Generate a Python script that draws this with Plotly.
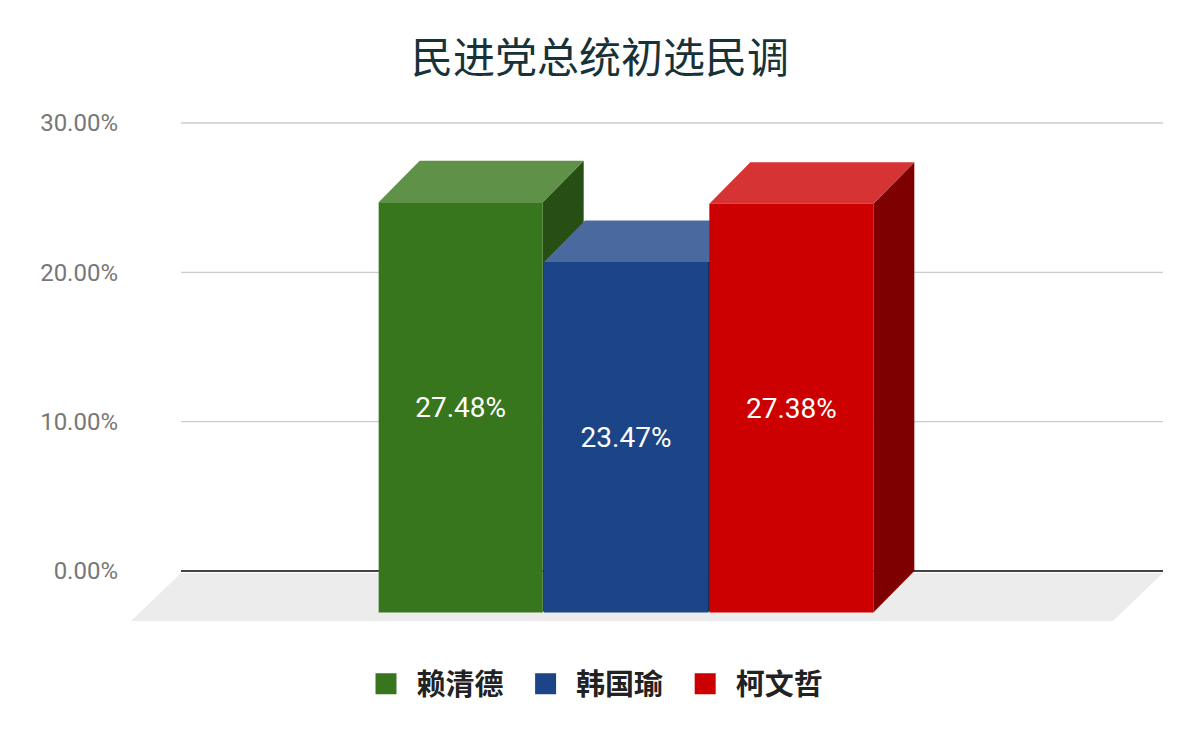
import plotly.graph_objects as go

# ---------------- data ----------------
title = "民进党总统初选民调"
candidates = ["赖清德", "韩国瑜", "柯文哲"]
values = [0.2748, 0.2347, 0.2738]          # support share
front_colors = ["#38761d", "#1c4587", "#cc0000"]
top_colors = ["#5f9148", "#4a6a9f", "#d63434"]
side_colors = ["#274e13", "#132f5e", "#7f0000"]
y_ticks = [0.0, 0.1, 0.2, 0.3]

# ---------------- geometry (layout constants) ----------------
OFF = 8                                 # page body margin
PX_PER_UNIT_X = 982.0
PX_PER_UNIT_Y = 1493.3
X0_PX = 626.0                           # page x of category centre
Y0_PX = 571.0                           # page y of value 0 on back wall
SLOT = 496.0 / 3 / PX_PER_UNIT_X        # one bar slot (category units)
BAR_W = SLOT * 0.992
DX = 41.0 / PX_PER_UNIT_X               # bar depth, x
DY = 41.5 / PX_PER_UNIT_Y               # bar depth, y
FLOOR_DX = 50.0 / PX_PER_UNIT_X
FLOOR_DY = 48.0 / PX_PER_UNIT_Y
FLOOR_TOP = -2.0 / PX_PER_UNIT_Y
BACK_LEFT = (181 - X0_PX) / PX_PER_UNIT_X
BACK_RIGHT = (1163 - X0_PX) / PX_PER_UNIT_X

W, H = 1200, 742
M_L, M_R, M_T, M_B = 117, 30, 92, 110
plot_top_page = M_T + OFF
plot_bot_page = H - M_B + OFF
x_range = [(M_L + OFF - X0_PX) / PX_PER_UNIT_X, (W - M_R + OFF - X0_PX) / PX_PER_UNIT_X]
y_range = [-(plot_bot_page - Y0_PX) / PX_PER_UNIT_Y, (Y0_PX - plot_top_page) / PX_PER_UNIT_Y]

centers = [(i - 1) * SLOT for i in range(len(values))]

fig = go.Figure()
shapes = []


def poly(pts, color):
    path = "M " + " L ".join(f"{x},{y}" for x, y in pts) + " Z"
    return dict(type="path", path=path, xref="x", yref="y",
                fillcolor=color, line=dict(width=0), layer="below")


# floor
shapes.append(poly([(BACK_LEFT, FLOOR_TOP), (BACK_RIGHT, FLOOR_TOP),
                    (BACK_RIGHT - FLOOR_DX, FLOOR_TOP - FLOOR_DY),
                    (BACK_LEFT - FLOOR_DX, FLOOR_TOP - FLOOR_DY)], "#ececec"))
# gridlines on back wall
for t in y_ticks:
    if t == 0:
        continue
    shapes.append(dict(type="line", xref="x", yref="y", x0=BACK_LEFT, x1=BACK_RIGHT,
                       y0=t, y1=t, line=dict(color="#cccccc", width=1.3), layer="below"))
shapes.append(dict(type="line", xref="x", yref="y", x0=BACK_LEFT, x1=BACK_RIGHT,
                   y0=0, y1=0, line=dict(color="#444444", width=2.2), layer="below"))

# 3D faces (side, top) per bar
for c, v, tc, sc in zip(centers, values, top_colors, side_colors):
    xl, xr = c - BAR_W / 2, c + BAR_W / 2
    shapes.append(poly([(xr, -DY), (xr, v - DY), (xr + DX, v), (xr + DX, 0)], sc))
    shapes.append(poly([(xl, v - DY), (xr, v - DY), (xr + DX, v), (xl + DX, v)], tc))

# front faces as bars
for name, c, v, fc in zip(candidates, centers, values, front_colors):
    fig.add_trace(go.Bar(
        x=[c], y=[v], base=[-DY], width=[BAR_W], name=name,
        marker=dict(color=fc, line=dict(width=0)),
        texttemplate="%{y:.2%}", textposition="inside", insidetextanchor="middle",
        textangle=0, constraintext="none",
        textfont=dict(color="white", size=28, family="Roboto"),
        showlegend=False, hoverinfo="skip"))

# legend entries
for name, fc in zip(candidates, front_colors):
    fig.add_trace(go.Scatter(
        x=[None], y=[None], mode="markers", name=name + "\u00a0",
        marker=dict(symbol="square", size=16, color=fc, line=dict(color=fc, width=5))))

legend_y_page = 684
fig.update_layout(
    width=W, height=H,
    margin=dict(l=M_L, r=M_R, t=M_T, b=M_B),
    paper_bgcolor="white", plot_bgcolor="white",
    barmode="overlay",
    shapes=shapes,
    title=dict(text=title, x=(600 - OFF) / W, xanchor="center", y=1 - (58 - OFF) / H,
               yanchor="middle",
               font=dict(family="Noto Sans CJK SC", size=42, color="#173238")),
    xaxis=dict(range=x_range, visible=False, fixedrange=True),
    yaxis=dict(range=y_range, tickvals=y_ticks, tickformat=".2%", showgrid=False,
               zeroline=False, showline=False, ticks="", ticklabelstandoff=6,
               tickfont=dict(family="Roboto", size=24, color="#777777")),
    legend=dict(orientation="h", x=(595 - OFF - M_L) / (W - M_L - M_R), xanchor="center",
                y=-(legend_y_page - plot_bot_page) / (plot_bot_page - plot_top_page),
                yanchor="middle", itemwidth=51,
                font=dict(family="Noto Sans CJK SC", size=29, color="#222222", weight="bold"),
                itemclick=False),
    showlegend=True,
)

fig.write_html("out.html")
